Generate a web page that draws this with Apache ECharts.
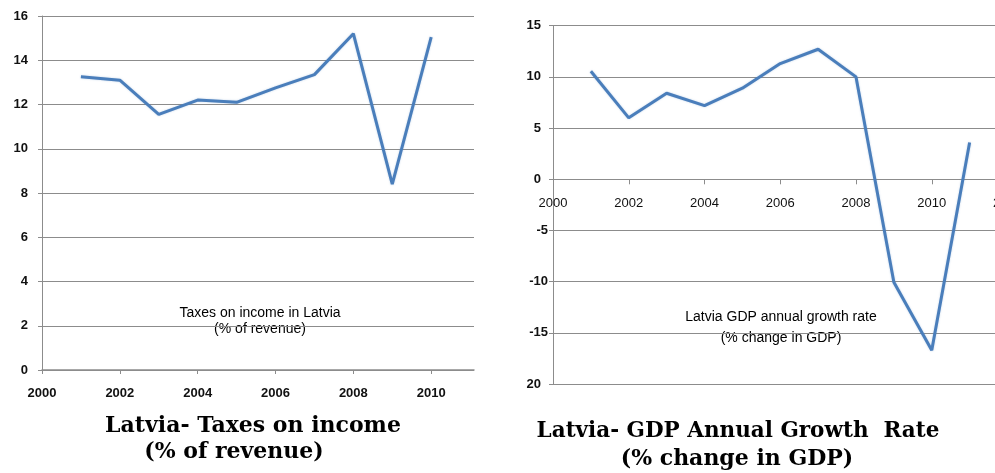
<!DOCTYPE html>
<html>
<head>
<meta charset="utf-8">
<script src="https://cdn.jsdelivr.net/npm/echarts@6/dist/echarts.min.js"></script>
<style>
  html, body { margin: 0; padding: 0; background: #ffffff; }
  #chart { width: 995px; height: 473px; }
</style>
</head>
<body>
<div id="chart"></div>
<script>
// Latvia: taxes on income (% of revenue)
const taxYears = [2001, 2002, 2003, 2004, 2005, 2006, 2007, 2008, 2009, 2010];
const taxesOnIncome = [13.25, 13.1, 11.55, 12.2, 12.1, 12.75, 13.35, 15.2, 8.4, 15.05];

// Latvia: GDP annual growth rate (% change in GDP)
const gdpYears = [2001, 2002, 2003, 2004, 2005, 2006, 2007, 2008, 2009, 2010, 2011];
const gdpGrowth = [10.55, 6.0, 8.4, 7.2, 8.9, 11.3, 12.7, 10.0, -10.05, -16.7, 3.6];

// Tick labels
const taxXTicks = [2000, 2002, 2004, 2006, 2008, 2010];
const taxYTicks = [0, 2, 4, 6, 8, 10, 12, 14, 16];
const gdpXTicks = [2000, 2002, 2004, 2006, 2008, 2010, 2012];
const gdpYTicks = [15, 10, 5, 0, -5, -10, -15, -20];
const gdpYTickText = ['15', '10', '5', '0', '-5', '-10', '-15', '20'];

const GDP_Y_MIN = -20, GDP_Y_MAX = 15;
const GDP_PLOT_HEIGHT = 358.4;

const LINE_COLOR = '#4a7ebb';
const GRID_COLOR = '#8c8c8c';
const SANS = '"Liberation Sans", Arial, sans-serif';
const SERIF = '"DejaVu Serif", "Liberation Serif", serif';

const pairs = (xs, ys) => xs.map((x, i) => [x, ys[i]]);
const yearText = v => String(Math.round(v));

// shift the GDP year axis up so it crosses the value axis at zero
const gdpZeroOffset = -((0 - GDP_Y_MIN) / (GDP_Y_MAX - GDP_Y_MIN)) * GDP_PLOT_HEIGHT;

const chart = echarts.init(document.getElementById('chart'), null, { renderer: 'canvas' });

chart.setOption({
  animation: false,
  backgroundColor: '#ffffff',
  grid: [
    { left: 42, top: 16, width: 432, height: 354, outerBoundsMode: 'none' },
    { left: 553, top: 25.7, width: 454.5, height: GDP_PLOT_HEIGHT, outerBoundsMode: 'none' }
  ],
  xAxis: [
    {
      gridIndex: 0, type: 'value', min: 2000, max: 2011.1,
      axisLine: { show: true, onZero: false, lineStyle: { color: GRID_COLOR, width: 1.5 } },
      axisTick: { show: true, length: 4, customValues: taxXTicks, lineStyle: { color: GRID_COLOR } },
      axisLabel: { customValues: taxXTicks, formatter: yearText, margin: 17, color: '#111', fontFamily: SANS, fontWeight: 'bold', fontSize: 13 },
      splitLine: { show: false }
    },
    {
      gridIndex: 1, type: 'value', min: 2000, max: 2012, interval: 2,
      position: 'bottom', offset: gdpZeroOffset,
      axisLine: { show: true, onZero: false, lineStyle: { color: GRID_COLOR, width: 1.2 } },
      axisTick: { show: true, length: 5, lineStyle: { color: GRID_COLOR } },
      axisLabel: { formatter: yearText, margin: 18, color: '#111', fontFamily: SANS, fontSize: 13, showMinLabel: true, showMaxLabel: true, hideOverlap: false },
      splitLine: { show: false }
    }
  ],
  yAxis: [
    {
      gridIndex: 0, type: 'value', min: 0, max: 16, interval: 2,
      axisLine: { show: true, lineStyle: { color: GRID_COLOR } },
      axisTick: { show: true, length: 4, lineStyle: { color: GRID_COLOR } },
      axisLabel: { margin: 14, color: '#111', fontFamily: SANS, fontWeight: 'bold', fontSize: 13 },
      splitLine: { show: true, lineStyle: { color: GRID_COLOR, width: 1.2 } }
    },
    {
      gridIndex: 1, type: 'value', min: GDP_Y_MIN, max: GDP_Y_MAX, interval: 5,
      axisLine: { show: true, onZero: false, lineStyle: { color: GRID_COLOR } },
      axisTick: { show: true, length: 4, lineStyle: { color: GRID_COLOR } },
      axisLabel: {
        margin: 5, color: '#111', fontFamily: SANS, fontWeight: 'bold', fontSize: 13,
        formatter: function (v) {
          const i = gdpYTicks.indexOf(v);
          const t = i >= 0 ? gdpYTickText[i] : String(v);
          return t.charAt(0) === '-' ? '{n|' + t + '}' : '{p|' + t + '}';
        },
        rich: {
          n: { fontFamily: SANS, fontWeight: 'bold', fontSize: 13, color: '#111' },
          p: { fontFamily: SANS, fontWeight: 'bold', fontSize: 13, color: '#111', padding: [0, 7, 0, 0] }
        }
      },
      splitLine: { show: true, lineStyle: { color: GRID_COLOR, width: 1.2 } }
    }
  ],
  series: [
    {
      type: 'line', xAxisIndex: 0, yAxisIndex: 0,
      data: pairs(taxYears, taxesOnIncome),
      showSymbol: false, smooth: false,
      lineStyle: { color: LINE_COLOR, width: 3, shadowColor: 'rgba(74,126,187,0.35)', shadowBlur: 2 }
    },
    {
      type: 'line', xAxisIndex: 1, yAxisIndex: 1,
      data: pairs(gdpYears, gdpGrowth),
      showSymbol: false, smooth: false,
      lineStyle: { color: LINE_COLOR, width: 3, shadowColor: 'rgba(74,126,187,0.35)', shadowBlur: 2 }
    }
  ],
  graphic: [
    // in-plot captions
    { type: 'text', x: 260, y: 313, style: { text: 'Taxes on income in Latvia', font: '14px ' + SANS, fill: '#000', textAlign: 'center', textVerticalAlign: 'middle' } },
    { type: 'text', x: 260, y: 329, style: { text: '(% of revenue)', font: '14px ' + SANS, fill: '#000', textAlign: 'center', textVerticalAlign: 'middle' } },
    { type: 'text', x: 781, y: 317, style: { text: 'Latvia GDP annual growth rate', font: '14px ' + SANS, fill: '#000', textAlign: 'center', textVerticalAlign: 'middle' } },
    { type: 'text', x: 781, y: 338, style: { text: '(% change in GDP)', font: '14px ' + SANS, fill: '#000', textAlign: 'center', textVerticalAlign: 'middle' } },
    // headings under each chart
    { type: 'text', x: 253, y: 426, style: { text: 'Latvia- Taxes on income', font: 'bold 22px ' + SERIF, fill: '#000', textAlign: 'center', textVerticalAlign: 'middle' } },
    { type: 'text', x: 234, y: 452, style: { text: '(% of revenue)', font: 'bold 22px ' + SERIF, fill: '#000', textAlign: 'center', textVerticalAlign: 'middle' } },
    { type: 'text', x: 738, y: 431, style: { text: 'Latvia- GDP Annual Growth  Rate', font: 'bold 21.5px ' + SERIF, fill: '#000', textAlign: 'center', textVerticalAlign: 'middle' } },
    { type: 'text', x: 737, y: 459, style: { text: '(% change in GDP)', font: 'bold 22px ' + SERIF, fill: '#000', textAlign: 'center', textVerticalAlign: 'middle' } }
  ]
});
</script>
</body>
</html>
